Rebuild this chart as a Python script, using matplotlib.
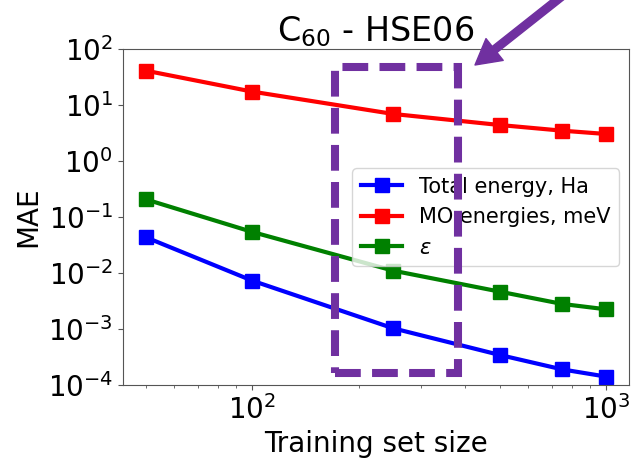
import matplotlib
matplotlib.use("Agg")
import matplotlib.pyplot as plt
from matplotlib.patches import Rectangle
from matplotlib.ticker import NullLocator

# Data
train_size = [50, 100, 250, 500, 750, 1000]
total_energy = [0.0437, 0.00731, 0.00103, 0.000344, 0.000190, 0.000141]
mo_energies = [41.5, 17.5, 6.98, 4.43, 3.51, 3.06]
epsilon = [0.208, 0.0543, 0.01104, 0.00466, 0.00281, 0.00225]
labels = ["Total energy, Ha", "MO energies, meV", r"$\varepsilon$"]

# highlight box (data coordinates)
box_x = (170.8, 381.0)
box_y = (1.62e-4, 48.9)

fig = plt.figure(figsize=(6.36, 4.58), dpi=100)
ax = fig.add_axes([0.193, 0.1594, 0.7966, 0.733])

kw = dict(marker="s", markersize=10, linewidth=3)
ax.plot(train_size, total_energy, color="blue", label=labels[0], **kw)
ax.plot(train_size, mo_energies, color="red", label=labels[1], **kw)
ax.plot(train_size, epsilon, color="green", label=labels[2], **kw)

ax.set_xscale("log")
ax.set_yscale("log")
ax.set_ylim(1e-4, 1e2)
ax.yaxis.set_minor_locator(NullLocator())
ax.tick_params(axis="both", which="major", labelsize=20)
for s in ax.spines.values():
    s.set_color("#555555")
ax.tick_params(colors="#555555", labelcolor="black", which="both")

ax.set_xlabel("Training set size", fontsize=20)
ax.set_ylabel("MAE", fontsize=20)
ax.set_title(r"C$_{60}$ - HSE06", fontsize=24)

ax.legend(loc="center right", fontsize=15)

rect = Rectangle((box_x[0], box_y[0]), box_x[1] - box_x[0], box_y[1] - box_y[0],
                 fill=False, edgecolor="#7030A0", linewidth=5.8,
                 linestyle=(0, (3.2, 1.4)), zorder=6, clip_on=False, joinstyle="miter")
ax.add_patch(rect)

# arrow pointing at the box (figure pixels)
ax.annotate("", xy=(475, 458 - 65), xycoords="figure pixels",
            xytext=(585, 458 + 22), textcoords="figure pixels",
            arrowprops=dict(facecolor="#7030A0", edgecolor="#7030A0",
                            width=5.5, headwidth=20, headlength=18, shrink=0),
            annotation_clip=False)

fig.savefig("out.png", dpi=100)
